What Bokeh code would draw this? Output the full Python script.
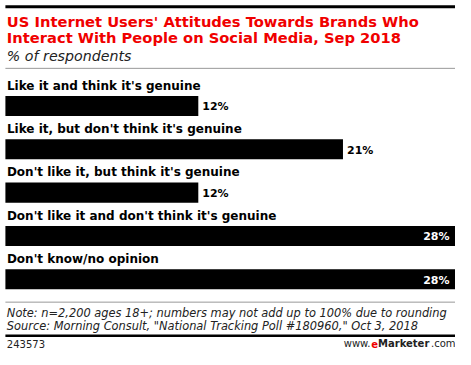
from bokeh.plotting import figure
from bokeh.models import Range1d, Label, ColumnDataSource
from bokeh.core.properties import value
from bokeh.embed import file_html
from bokeh.resources import INLINE

# ---- data ----
categories = [
    "Like it and think it's genuine",
    "Like it, but don't think it's genuine",
    "Don't like it, but think it's genuine",
    "Don't like it and don't think it's genuine",
    "Don't know/no opinion",
]
values = [12, 21, 12, 28, 28]
value_labels = ["12%", "21%", "12%", "28%", "28%"]

title_lines = ["US Internet Users' Attitudes Towards Brands Who",
               "Interact With People on Social Media, Sep 2018"]
subtitle = "% of respondents"
note_lines = ["Note: n=2,200 ages 18+; numbers may not add up to 100% due to rounding",
              "Source: Morning Consult, \"National Tracking Poll #180960,\" Oct 3, 2018"]
chart_id = "243573"

W, H = 455, 349
REF_W, REF_H = 464.0, 357.5
FONT = "DejaVu Sans"
RED = "#f00000"
vmax = max(values)


def sx(ref_x):
    return ref_x * W / REF_W


left_px = sx(5)
x_start = -vmax * left_px / (W - left_px)

p = figure(width=W, height=H, output_backend="svg", toolbar_location=None,
           min_border=0, x_range=Range1d(x_start, vmax),
           y_range=Range1d(REF_H, 0))
p.axis.visible = False
p.grid.visible = False
p.outline_line_color = None
p.background_fill_color = "white"
p.border_fill_color = "white"


def mid(baseline, size):
    return baseline - 0.36 * size


def label(text, x, baseline, size, color="black", style="normal", align="left"):
    p.add_layout(Label(x=sx(x), y=mid(baseline, size), x_units="screen", y_units="data",
                       text=text, text_font=FONT, text_font_size=f"{size}px",
                       text_color=color, text_font_style=style, text_align=align,
                       text_baseline="middle"))


def rule(y, color, width):
    p.segment(x0=0, x1=vmax, y0=y, y1=y, line_color=color, line_width=width)


# header
rule(6.5, "black", 3)
label(title_lines[0], 6.5, 26.5, 14.7, RED, "bold")
label(title_lines[1], 6.5, 42.7, 14.7, RED, "bold")
label(subtitle, 6.5, 62, 14.2, "#222222", "italic")
rule(69.5, "#999999", 1)

# bars
pitch = 44.4
first = 108.0
ys = [first + i * pitch for i in range(len(categories))]
bar_h = 20.5
cat_size = 12
src = ColumnDataSource(dict(y=ys, right=values, cat=categories, lab=value_labels,
                            lab_y=[mid(y - bar_h / 2 - 6.3, cat_size) for y in ys]))
p.hbar(y="y", left=0, right="right", height=bar_h, source=src,
       fill_color="black", line_color=None)
p.text(x=0, y="lab_y", text="cat", source=src, text_font=value(FONT),
       text_font_style="bold", text_font_size=f"{cat_size}px", text_color="black",
       text_baseline="middle", x_offset=1.5)

out_idx = [i for i, v in enumerate(values) if v < vmax - 2]
in_idx = [i for i, v in enumerate(values) if v >= vmax - 2]
out_src = ColumnDataSource(dict(x=[values[i] for i in out_idx], y=[ys[i] for i in out_idx],
                                t=[value_labels[i] for i in out_idx]))
in_src = ColumnDataSource(dict(x=[values[i] for i in in_idx], y=[ys[i] for i in in_idx],
                               t=[value_labels[i] for i in in_idx]))
p.text(x="x", y="y", text="t", source=out_src, text_font=value(FONT),
       text_font_style="bold", text_font_size="11px", text_color="black",
       text_baseline="middle", text_align="left", x_offset=4, y_offset=1)
p.text(x="x", y="y", text="t", source=in_src, text_font=value(FONT),
       text_font_style="bold", text_font_size="11px", text_color="white",
       text_baseline="middle", text_align="right", x_offset=-6, y_offset=1)

# footer
rule(309, "#999999", 1)
label(note_lines[0], 6.5, 324, 11.4, "#222222", "italic")
label(note_lines[1], 6.5, 337.3, 11.4, "#222222", "italic")
rule(343.5, "black", 2.5)
label(chart_id, 6.5, 355.3, 10, "#222222")
label("www.", 350, 355.3, 10, "#222222")
label("e", 378, 355.3, 10, RED, "bold")
label("Marketer", 385, 355.3, 10, "#222222", "bold")
label(".com", 464, 355.3, 10, "#222222", align="right")

open("out.html", "w").write(file_html(p, INLINE))
